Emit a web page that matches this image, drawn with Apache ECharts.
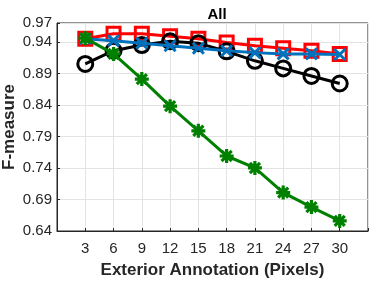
<!DOCTYPE html>
<html><head><meta charset="utf-8">
<script src="https://cdn.jsdelivr.net/npm/echarts@6/dist/echarts.min.js"></script>
<style>html,body{margin:0;padding:0;background:#fff}#c{width:374px;height:281px}</style>
</head><body><div id="c"></div>
<script>
const xValues = [3, 6, 9, 12, 15, 18, 21, 24, 27, 30];
const redSquares = [0.945, 0.953, 0.953, 0.949, 0.945, 0.939, 0.934, 0.930, 0.926, 0.921];
const blackCircles = [0.905, 0.926, 0.935, 0.941, 0.938, 0.925, 0.910, 0.898, 0.886, 0.874];
const blueCrosses = [0.945, 0.942, 0.938, 0.934, 0.930, 0.926, 0.923, 0.921, 0.921, 0.920];
const greenStars = [0.946, 0.921, 0.881, 0.838, 0.799, 0.759, 0.740, 0.701, 0.678, 0.656];
const yTicks = [0.64, 0.69, 0.74, 0.79, 0.84, 0.89, 0.94, 0.97];
const titleText = 'All';
const xName = 'Exterior Annotation (Pixels)';
const yName = 'F-measure';

const font = 'Liberation Sans, Arial, Helvetica, sans-serif';
const pair = arr => xValues.map((x, i) => [x, arr[i]]);
const chart = echarts.init(document.getElementById('c'));
function mk(name, data, color, symbol, size, z, bw) {
  return {
    name, type: 'line', data: pair(data), z,
    symbol, symbolSize: size,
    lineStyle: { color, width: 3 },
    itemStyle: { color: 'rgba(0,0,0,0)', borderColor: color, borderWidth: bw },
    emphasis: { disabled: true }, animation: false
  };
}
chart.setOption({
  animation: false,
  title: { text: titleText, left: 212, top: 2, textAlign: 'center',
    textStyle: { fontFamily: font, fontSize: 15, fontWeight: 'bold', color: '#000' } },
  grid: { left: 57, right: 6, top: 23, bottom: 50, show: true, borderColor: '#262626', borderWidth: 1,
    backgroundColor: 'transparent', containLabel: false, outerBoundsMode: 'none' },
  xAxis: {
    type: 'value', min: 0, max: 33, interval: 3,
    name: xName, nameLocation: 'middle', nameGap: 31, nameMoveOverlap: false,
    nameTextStyle: { fontFamily: font, fontSize: 17, fontWeight: 'bold', color: '#262626' },
    axisLine: { show: true, onZero: false, lineStyle: { color: '#262626' } },
    axisTick: { show: true, inside: true, length: 3, lineStyle: { color: '#262626' } },
    axisLabel: { fontFamily: font, fontSize: 15, color: '#262626', margin: 10,
      formatter: v => (v === 0 || v === 33) ? '' : String(v) },
    splitLine: { show: true, lineStyle: { color: '#e3e3e3', width: 1 } }
  },
  yAxis: {
    type: 'value', min: 0.64, max: 0.97, interval: 0.05,
    name: yName, nameLocation: 'middle', nameGap: 39, nameRotate: 90, nameMoveOverlap: false,
    nameTextStyle: { fontFamily: font, fontSize: 17, fontWeight: 'bold', color: '#262626' },
    axisLine: { show: true, lineStyle: { color: '#262626' } },
    axisTick: { show: true, inside: true, length: 3, lineStyle: { color: '#262626' } },
    axisLabel: { fontFamily: font, fontSize: 15, color: '#262626', margin: 5,
      formatter: v => { const t = yTicks.find(k => Math.abs(k - v) < 1e-6); return t === undefined ? '' : t.toFixed(2); } },
    splitLine: { show: true, lineStyle: { color: '#e3e3e3', width: 1 } }
  },
  series: [
    mk('red', redSquares, '#ff0000', 'rect', 13, 2, 3),
    mk('black', blackCircles, '#000000', 'circle', 15, 3, 3),
    mk('blue', blueCrosses, '#0072bd', 'path://M-1 -1 L1 1 M-1 1 L1 -1', 11, 4, 3),
    mk('green', greenStars, '#008000', 'path://M-1 0 L1 0 M0 -1 L0 1 M-0.72 -0.72 L0.72 0.72 M-0.72 0.72 L0.72 -0.72', 14, 5, 3.2)
  ]
});
</script></body></html>
